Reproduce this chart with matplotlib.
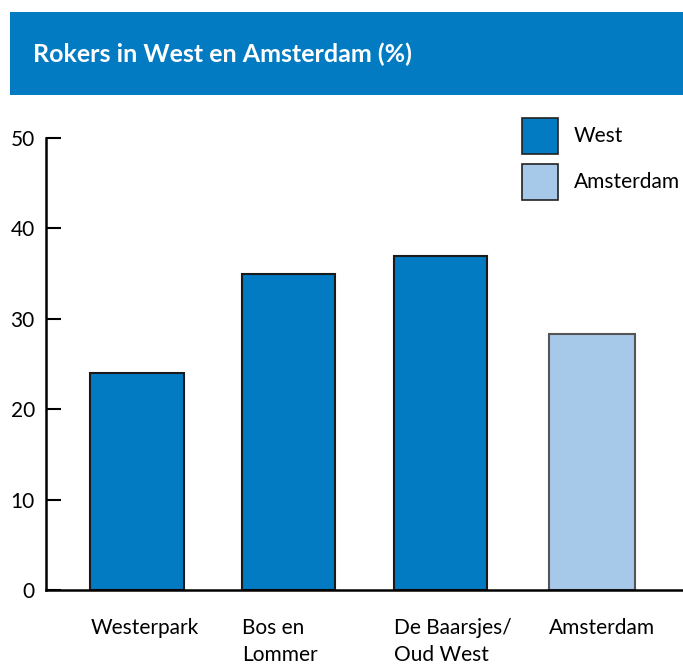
import matplotlib.pyplot as plt
from matplotlib.patches import Rectangle

plt.rcParams['font.family'] = ['Lato', 'DejaVu Sans']

# data
categories = ['Westerpark', 'Bos en\nLommer', 'De Baarsjes/\nOud West', 'Amsterdam']
values = [24, 35, 37, 28.3]
groups = ['West', 'West', 'West', 'Amsterdam']
y_ticks = [0, 10, 20, 30, 40, 50]
legend_labels = ['West', 'Amsterdam']

blue = '#027bc3'
light = '#a7c9e9'
colors = {'West': blue, 'Amsterdam': light}
edges = {'West': '#1a1a1a', 'Amsterdam': '#555555'}
widths = {'West': 0.615, 'Amsterdam': 0.57}

fig = plt.figure(figsize=(6.83, 6.68), dpi=100)
W, H = 683, 668

# title band
fig.patches.append(Rectangle((10 / W, 1 - 95 / H), 1 - 10 / W, 83 / H,
                             transform=fig.transFigure, facecolor=blue, edgecolor='none'))
fig.text(33 / W, 1 - 54 / H, 'Rokers in West en Amsterdam (%)', color='white',
         fontsize=18, fontweight='bold', va='center', ha='left')

ax = fig.add_axes([46 / W, 78 / H, 1 - 46 / W, 452 / H])
x = list(range(len(categories)))
for i, (v, g) in enumerate(zip(values, groups)):
    ax.bar(x[i], v, width=widths[g], color=colors[g], edgecolor=edges[g], linewidth=1.5)

ax.set_xlim(-0.6, 3.6)
ax.set_ylim(0, 50)
ax.set_yticks(y_ticks)
ax.tick_params(axis='y', direction='in', length=11, width=1.5, labelsize=15, pad=8)
ax.set_xticks([])
for i, c in enumerate(categories):
    left = x[i] - widths[groups[i]] / 2
    ax.text(left, -3.1, c, ha='left', va='top', fontsize=15, linespacing=1.45)

for s in ['top', 'right']:
    ax.spines[s].set_visible(False)
for s in ['left', 'bottom']:
    ax.spines[s].set_linewidth(1.8)

# legend drawn as boxes in figure space
for k, lab in enumerate(legend_labels):
    top = 118 + k * 46
    fig.patches.append(Rectangle((522 / W, 1 - (top + 36) / H), 36 / W, 36 / H,
                                 transform=fig.transFigure, facecolor=colors[lab],
                                 edgecolor='#222222', linewidth=1.2))
    fig.text(574 / W, 1 - (top + 18) / H, lab, fontsize=15, va='center', ha='left')

fig.savefig('out.png', dpi=100)
